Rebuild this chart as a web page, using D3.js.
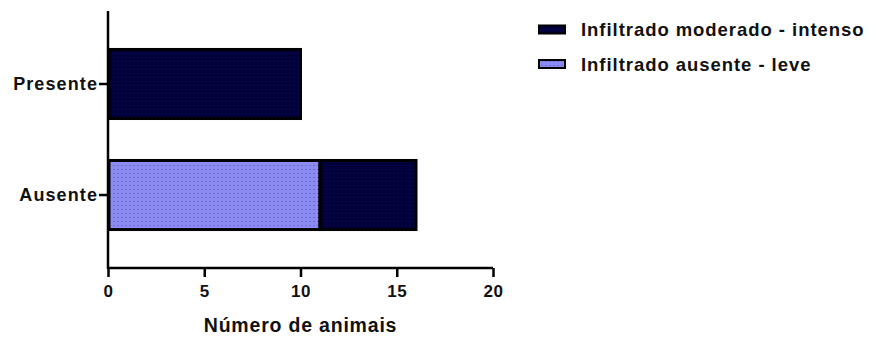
<!DOCTYPE html>
<html><head><meta charset="utf-8">
<script src="https://cdn.jsdelivr.net/npm/d3@7"></script>
<style>html,body{margin:0;padding:0;background:#fff;}svg{display:block;}</style>
</head><body>
<svg id="c" width="878" height="338"></svg>
<script>
const categories = ["Presente", "Ausente"];
const seriesNames = ["Infiltrado ausente - leve", "Infiltrado moderado - intenso"];
const leve = [0, 11];
const moderado = [10, 5];
const xTicks = [0, 5, 10, 15, 20];
const xLabel = "Número de animais";

const svg = d3.select("#c");
const FONT = "'Liberation Sans', Arial, Helvetica, sans-serif";
const x = d3.scaleLinear().domain([0, 20]).range([108, 493]);
const y = d3.scaleBand().domain(categories).range([11, 268]).paddingInner(0.351).paddingOuter(0.333);

const defs = svg.append("defs");
const p1 = defs.append("pattern").attr("id","pLight").attr("patternUnits","userSpaceOnUse").attr("width",4).attr("height",4);
p1.append("rect").attr("width",4).attr("height",4).attr("fill","#8b8bf2");
p1.append("rect").attr("x",1).attr("y",1).attr("width",2).attr("height",1).attr("fill","#6c6cd4");
const p2 = defs.append("pattern").attr("id","pDark").attr("patternUnits","userSpaceOnUse").attr("width",4).attr("height",4);
p2.append("rect").attr("width",4).attr("height",4).attr("fill","#02003a");
p2.append("rect").attr("x",1).attr("y",1).attr("width",2).attr("height",1).attr("fill","#0b0858");

const stacks = categories.map((c,i)=>({c, segs:[
  {x0:0, x1:leve[i], fill:"url(#pLight)"},
  {x0:leve[i], x1:leve[i]+moderado[i], fill:"url(#pDark)"}
]}));

const g = svg.append("g");
stacks.forEach(s=>{
  s.segs.filter(d=>d.x1>d.x0).forEach(d=>{
    g.append("rect")
      .attr("x", x(d.x0)+1).attr("y", y(s.c)+1.5)
      .attr("width", x(d.x1)-x(d.x0)-1).attr("height", y.bandwidth()-3)
      .attr("fill", d.fill).attr("stroke","#000").attr("stroke-width",3);
  });
});

// axes
const xa = svg.append("g").attr("transform","translate(0,268)")
  .call(d3.axisBottom(x).tickValues(xTicks).tickSize(9).tickPadding(8).tickSizeOuter(0));
const ya = svg.append("g").attr("transform","translate(108,0)")
  .call(d3.axisLeft(y).tickSize(9).tickPadding(1).tickSizeOuter(0));
[xa,ya].forEach(a=>{
  a.selectAll("path,line").attr("stroke","#000").attr("stroke-width",2.5);
  a.selectAll("text").attr("fill","#111").attr("font-family",FONT).attr("font-weight","bold");
});
xa.select(".domain").attr("d","M108,0H493");
ya.select(".domain").attr("d","M0,11V269");
xa.selectAll("text").attr("font-size",17).attr("dy","0.71em").attr("letter-spacing","0.5px");
ya.selectAll("text").attr("font-size",18).attr("dy","0.36em").attr("letter-spacing","1.1px");

svg.append("text").attr("x",(x(0)+x(20))/2+0).attr("y",332).attr("text-anchor","middle")
  .attr("font-family",FONT).attr("font-weight","bold").attr("font-size",19.5).attr("letter-spacing","0.8px").attr("fill","#111").text(xLabel);

// legend
const legendItems = [
  {name: seriesNames[1], fill:"url(#pDark)", y:29.5},
  {name: seriesNames[0], fill:"url(#pLight)", y:64}
];
legendItems.forEach(d=>{
  svg.append("rect").attr("x",539).attr("y",d.y-4).attr("width",26).attr("height",8)
    .attr("fill",d.fill).attr("stroke","#000").attr("stroke-width",2);
  svg.append("text").attr("x",581).attr("y",d.y).attr("dy","0.36em")
    .attr("font-family",FONT).attr("font-weight","bold").attr("font-size",18.5).attr("letter-spacing","0.95px").attr("fill","#111").text(d.name);
});
</script>
</body></html>
